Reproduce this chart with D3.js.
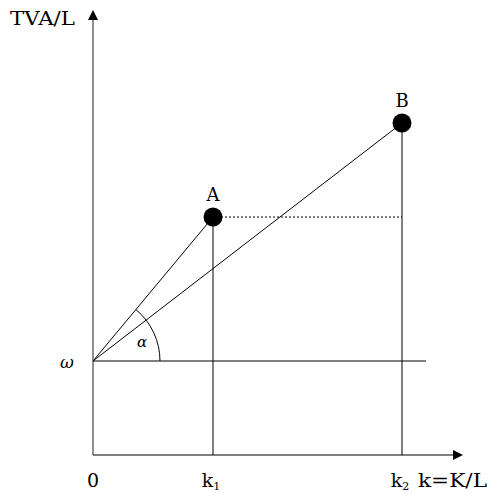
<!DOCTYPE html>
<html><head><meta charset="utf-8">
<script src="https://cdn.jsdelivr.net/npm/d3@7"></script>
<style>body{margin:0;background:#fff}svg{display:block}</style>
</head><body><svg id="c" width="497" height="493"></svg>
<script>
// data (model units)
const pointNames = ["A", "B"];
const pointK = [1.2, 3.09];      // k1, k2
const pointY = [2.38, 3.32];     // TVA/L
const omega = 0.94;
const omegaLineEnd = 3.33;
const xAxisEnd = 3.70;
const yAxisEnd = 4.45;
const xTickLabels = ["0", "k1", "k2"];

const FONT = "DejaVu Serif";
const svg = d3.select("#c");
const x = d3.scaleLinear().domain([0, 1]).range([93, 193]);
const y = d3.scaleLinear().domain([0, 1]).range([455, 355]);

const axisColor = "#555";
svg.append("line").attr("x1", x(0)).attr("x2", x(xAxisEnd) - 8).attr("y1", y(0)).attr("y2", y(0))
  .attr("stroke", axisColor).attr("stroke-width", 1.3);
svg.append("line").attr("x1", x(0)).attr("x2", x(0)).attr("y1", y(0)).attr("y2", y(yAxisEnd) + 8)
  .attr("stroke", axisColor).attr("stroke-width", 1.3);
const ax = x(xAxisEnd), ay = y(0);
svg.append("path").attr("d", `M${ax},${ay} L${ax - 10},${ay - 5} L${ax - 10},${ay + 5} Z`).attr("fill", "#000");
const tx = x(0), ty = y(yAxisEnd);
svg.append("path").attr("d", `M${tx},${ty} L${tx - 5},${ty + 10} L${tx + 5},${ty + 10} Z`).attr("fill", "#000");

svg.append("line").attr("x1", x(0)).attr("x2", x(omegaLineEnd)).attr("y1", y(omega)).attr("y2", y(omega))
  .attr("stroke", "#000").attr("stroke-width", 1.2);

pointK.forEach((k, i) => {
  svg.append("line").attr("x1", x(0)).attr("y1", y(omega)).attr("x2", x(k)).attr("y2", y(pointY[i]))
    .attr("stroke", "#000").attr("stroke-width", 1);
  svg.append("line").attr("x1", x(k)).attr("x2", x(k)).attr("y1", y(0)).attr("y2", y(pointY[i]))
    .attr("stroke", "#000").attr("stroke-width", 1);
});
svg.append("line").attr("x1", x(pointK[0])).attr("x2", x(pointK[1])).attr("y1", y(pointY[0])).attr("y2", y(pointY[0]))
  .attr("stroke", "#000").attr("stroke-width", 1).attr("stroke-dasharray", "2,2");

const cx = x(0), cy = y(omega), r = 67;
const angA = Math.atan2(y(omega) - y(pointY[0]), x(pointK[0]) - x(0));
svg.append("path").attr("d", `M${cx + r},${cy} A${r},${r} 0 0 0 ${cx + r * Math.cos(angA)},${cy - r * Math.sin(angA)}`)
  .attr("fill", "none").attr("stroke", "#000").attr("stroke-width", 1);

function txt(xp, yp, s, size, anchor, italic) {
  return svg.append("text").attr("x", xp).attr("y", yp).style("font-family", FONT)
    .attr("font-size", size).attr("text-anchor", anchor || "start")
    .attr("font-style", italic ? "italic" : "normal").attr("fill", "#000").text(s);
}
txt(142, 347, "α", 15, "middle", true);

svg.selectAll("circle.pt").data(pointK).join("circle").attr("class", "pt")
  .attr("cx", d => x(d)).attr("cy", (d, i) => y(pointY[i])).attr("r", 9.5).attr("fill", "#000");
pointNames.forEach((n, i) => txt(x(pointK[i]), y(pointY[i]) - 16.5, n, 18, "middle"));

txt(10, 25, "TVA/L", 19).attr("textLength", 65).attr("lengthAdjust", "spacingAndGlyphs");
txt(67, 368, "ω", 17, "middle", true);
txt(x(0), 487, xTickLabels[0], 19, "middle");
[1, 2].forEach(i => {
  const t = txt(x(pointK[i - 1]) - 2, 487, "", 19, "middle");
  t.append("tspan").text(xTickLabels[i][0]);
  t.append("tspan").attr("font-size", 11).attr("dy", 3).text(xTickLabels[i].slice(1));
});
txt(418, 487, "k=K/L", 18).attr("textLength", 69).attr("lengthAdjust", "spacingAndGlyphs");
</script></body></html>
